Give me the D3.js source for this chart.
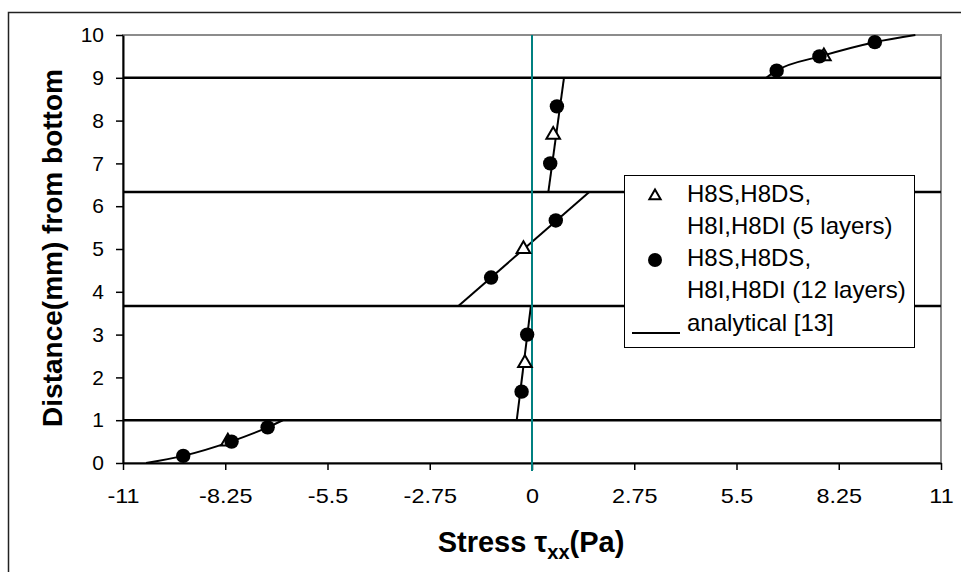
<!DOCTYPE html>
<html>
<head>
<meta charset="utf-8">
<script src="https://cdn.jsdelivr.net/npm/d3@7"></script>
<style>
  html, body { margin: 0; padding: 0; background: #fff; }
  svg { display: block; font-family: Arial, "Liberation Sans", sans-serif; }
</style>
</head>
<body>
<svg id="chart" width="961" height="572"></svg>
<script>
// ---------- data ----------
const xTickValues = [-11, -8.25, -5.5, -2.75, 0, 2.75, 5.5, 8.25, 11];
const xTickLabels = ["-11", "-8.25", "-5.5", "-2.75", "0", "2.75", "5.5", "8.25", "11"];
const yTickValues = [0, 1, 2, 3, 4, 5, 6, 7, 8, 9, 10];

// layer interfaces (mm)
const interfaces = [1, 3.667, 6.333, 9];

// 5-layer results (triangles): [stress, distance]
const fiveLayerX = [-8.18, -0.19, -0.23, 0.57, 7.85];
const fiveLayerY = [0.5, 2.333, 5.0, 7.667, 9.5];

// 12-layer results (dots)
const twelveLayerX = [-9.38, -8.08, -7.11, -0.28, -0.13, -1.10, 0.64, 0.49, 0.67, 6.58, 7.73, 9.22];
const twelveLayerY = [0.167, 0.5, 0.833, 1.667, 3.0, 4.333, 5.667, 7.0, 8.333, 9.167, 9.5, 9.833];

// analytical solution [13], one segment per layer
const analytical1X = [-10.38, -9.38, -8.1, -7.11, -6.7];
const analytical1Y = [0, 0.167, 0.5, 0.833, 1];
const analytical2X = [-0.41, -0.03];
const analytical2Y = [1, 3.667];
const analytical3X = [-1.98, 1.54];
const analytical3Y = [3.667, 6.333];
const analytical4X = [0.44, 0.86];
const analytical4Y = [6.333, 9];
const analytical5X = [6.3, 6.58, 7.75, 9.22, 10.31];
const analytical5Y = [9, 9.167, 9.5, 9.833, 10];

const legendLabels = [
  ["H8S,H8DS,", "H8I,H8DI (5 layers)"],
  ["H8S,H8DS,", "H8I,H8DI (12 layers)"],
  ["analytical [13]"]
];

// ---------- chart ----------
const svg = d3.select("#chart");
const W = 961, H = 572;
const x = d3.scaleLinear().domain([-11, 11]).range([123, 941]);
const y = d3.scaleLinear().domain([0, 10]).range([463, 35]);

// outer frame
svg.append("rect")
  .attr("x", 8.5).attr("y", 12.5).attr("width", W).attr("height", H)
  .attr("fill", "#fff").attr("stroke", "#222").attr("stroke-width", 1.5);

// plot area border (gray)
svg.append("rect")
  .attr("x", x(-11)).attr("y", y(10))
  .attr("width", x(11) - x(-11)).attr("height", y(0) - y(10))
  .attr("fill", "#fff").attr("stroke", "#8c8c8c").attr("stroke-width", 2);

// interface lines
svg.append("g").selectAll("line").data(interfaces).join("line")
  .attr("x1", x(-11)).attr("x2", x(11))
  .attr("y1", d => y(d)).attr("y2", d => y(d))
  .attr("stroke", "#000").attr("stroke-width", 2.5);

// analytical segments
const segs = [
  [analytical1X, analytical1Y],
  [analytical2X, analytical2Y],
  [analytical3X, analytical3Y],
  [analytical4X, analytical4Y],
  [analytical5X, analytical5Y]
];
const line = d3.line().x(d => x(d[0])).y(d => y(d[1])).curve(d3.curveMonotoneX);
svg.append("g").selectAll("path").data(segs).join("path")
  .attr("d", s => line(s[0].map((v, i) => [v, s[1][i]])))
  .attr("fill", "none").attr("stroke", "#000").attr("stroke-width", 2);

// axes
const xAxis = d3.axisBottom(x).tickValues(xTickValues)
  .tickFormat((d, i) => xTickLabels[i]).tickSize(7).tickSizeOuter(0).tickPadding(19);
const gx = svg.append("g").attr("transform", `translate(0,${y(0)})`).call(xAxis);
const yAxis = d3.axisLeft(y).tickValues(yTickValues).tickSize(7).tickSizeOuter(0).tickPadding(12);
const gy = svg.append("g").attr("transform", `translate(${x(-11)},0)`).call(yAxis);
[gx, gy].forEach(g => {
  g.select(".domain").attr("stroke", "#000").attr("stroke-width", 2);
  g.selectAll(".tick line").attr("stroke", "#000").attr("stroke-width", 1.5);
  g.selectAll(".tick text").attr("font-size", 21).attr("fill", "#000")
    .attr("font-family", "Arial, 'Liberation Sans', sans-serif");
});
gx.selectAll(".tick text").attr("font-size", 20).attr("transform", "scale(1.17,1)");

// teal zero line
svg.append("line")
  .attr("x1", x(0)).attr("x2", x(0)).attr("y1", y(0) + 8).attr("y2", y(10))
  .attr("stroke", "#008080").attr("stroke-width", 2);

// triangles
const tri = d3.symbol().type(d3.symbolTriangle).size(80);
svg.append("g").selectAll("path").data(fiveLayerX.map((v, i) => [v, fiveLayerY[i]])).join("path")
  .attr("d", tri)
  .attr("transform", d => `translate(${x(d[0])},${y(d[1])})`)
  .attr("fill", "#fff").attr("stroke", "#000").attr("stroke-width", 2);

// dots
svg.append("g").selectAll("circle").data(twelveLayerX.map((v, i) => [v, twelveLayerY[i]])).join("circle")
  .attr("cx", d => x(d[0])).attr("cy", d => y(d[1])).attr("r", 7.2)
  .attr("fill", "#000");

// axis titles
const xt = svg.append("text")
  .attr("x", 531).attr("y", 552).attr("text-anchor", "middle")
  .attr("font-size", 29).attr("font-weight", "bold").attr("fill", "#000");
xt.append("tspan").text("Stress ");
xt.append("tspan").text("τ");
xt.append("tspan").attr("font-size", 20).attr("dy", 7).text("xx");
xt.append("tspan").attr("dy", -7).text("(Pa)");

svg.append("text")
  .attr("transform", "translate(62,248) rotate(-90)")
  .attr("text-anchor", "middle")
  .attr("font-size", 28).attr("font-weight", "bold").attr("fill", "#000")
  .text("Distance(mm) from bottom");

// legend
const lg = svg.append("g");
lg.append("rect").attr("x", 624.5).attr("y", 175.5).attr("width", 290).attr("height", 172)
  .attr("fill", "#fff").attr("stroke", "#000").attr("stroke-width", 1);
lg.append("path").attr("d", d3.symbol().type(d3.symbolTriangle).size(55))
  .attr("transform", "translate(655,196)")
  .attr("fill", "#fff").attr("stroke", "#000").attr("stroke-width", 2);
lg.append("circle").attr("cx", 655).attr("cy", 260).attr("r", 7).attr("fill", "#000");
lg.append("line").attr("x1", 632).attr("x2", 680).attr("y1", 333).attr("y2", 333)
  .attr("stroke", "#000").attr("stroke-width", 2);
const legendLines = [
  [legendLabels[0][0], 202], [legendLabels[0][1], 234],
  [legendLabels[1][0], 266], [legendLabels[1][1], 298],
  [legendLabels[2][0], 331]
];
lg.selectAll("text.l").data(legendLines).join("text")
  .attr("class", "l")
  .attr("x", 687).attr("y", d => d[1])
  .attr("font-size", 24).attr("fill", "#000")
  .text(d => d[0]);
</script>
</body>
</html>
